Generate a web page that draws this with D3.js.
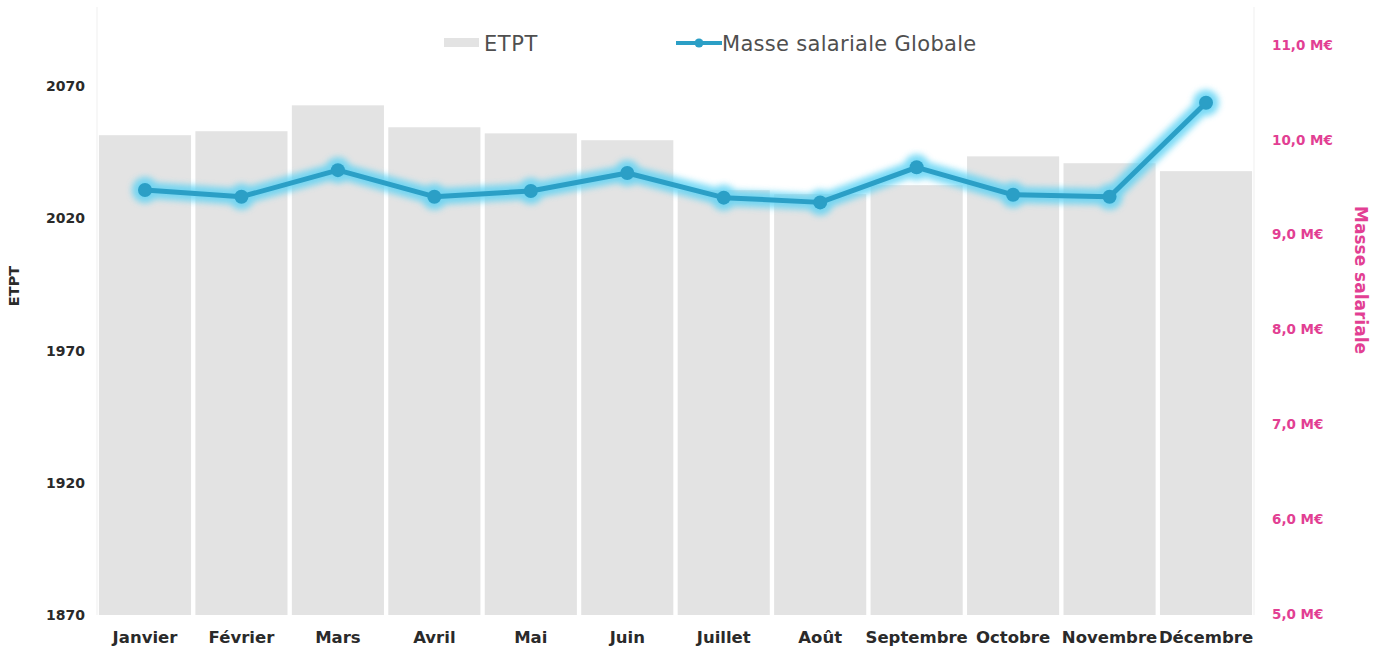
<!DOCTYPE html>
<html>
<head>
<meta charset="utf-8">
<script src="https://cdn.jsdelivr.net/npm/d3@7"></script>
<style>
  html, body { margin: 0; padding: 0; background: #fff; }
  svg { display: block; }
</style>
</head>
<body>
<svg id="chart" width="1381" height="653"></svg>
<script>
// Months (x categories)
const months = ["Janvier", "Février", "Mars", "Avril", "Mai", "Juin",
                "Juillet", "Août", "Septembre", "Octobre", "Novembre", "Décembre"];
// ETPT per month (bars, left axis)
const etpt = [2051.5, 2053, 2062.8, 2054.5, 2052.2, 2049.6,
              2030.7, 2029.2, 2032.6, 2043.5, 2040.9, 2037.9];
// Masse salariale globale per month, in M€ (line, right axis)
const masse = [9.47, 9.40, 9.68, 9.40, 9.46, 9.65,
               9.39, 9.34, 9.71, 9.42, 9.40, 10.39];
// Tick values
const etptTicks = [1870, 1920, 1970, 2020, 2070];
const masseTicks = [5, 6, 7, 8, 9, 10, 11];

const svg = d3.select("#chart");
const plot = { left: 97, right: 1254, top: 7, bottom: 615 };

const x = d3.scaleBand().domain(months)
  .range([plot.left, plot.right]).paddingInner(0.045).paddingOuter(0.02);
const yL = d3.scaleLinear().domain([1870, 2100]).range([plot.bottom, plot.top]);
const yR = d3.scaleLinear().domain([5, 11.4]).range([plot.bottom - 1, plot.top]);

const defs = svg.append("defs");
defs.append("filter").attr("id", "glow")
  .attr("x", "-20%").attr("y", "-50%").attr("width", "140%").attr("height", "200%")
  .append("feGaussianBlur").attr("stdDeviation", 3);

// faint plot frame lines
svg.append("g").selectAll("line").data([plot.left, plot.right]).join("line")
  .attr("x1", d => d).attr("x2", d => d)
  .attr("y1", plot.top).attr("y2", plot.bottom)
  .attr("stroke", "#efefef").attr("stroke-width", 1);

// Bars
svg.append("g").selectAll("rect").data(months).join("rect")
  .attr("x", d => x(d))
  .attr("width", x.bandwidth())
  .attr("y", (d, i) => yL(etpt[i]))
  .attr("height", (d, i) => yL(1870) - yL(etpt[i]))
  .attr("fill", "#e3e3e3");

// Left axis
const axL = svg.append("g").attr("transform", `translate(${plot.left - 12},0)`)
  .call(d3.axisLeft(yL).tickValues(etptTicks).tickSize(0).tickPadding(0).tickFormat(d3.format("d")));
axL.select(".domain").remove();
axL.selectAll("text")
  .attr("font-family", "DejaVu Sans").attr("font-weight", "bold")
  .attr("font-size", 14).attr("fill", "#2a2a2a");

// Right axis
const axR = svg.append("g").attr("transform", `translate(${plot.right + 18},0)`)
  .call(d3.axisRight(yR).tickValues(masseTicks).tickSize(0).tickPadding(0)
    .tickFormat(d => d3.format(".1f")(d).replace(".", ",") + " M€"));
axR.select(".domain").remove();
axR.selectAll("text")
  .attr("font-family", "DejaVu Sans").attr("font-weight", "bold")
  .attr("font-size", 13.5).attr("fill", "#e23f93");

// Bottom axis
const axB = svg.append("g").attr("transform", `translate(0,${plot.bottom})`)
  .call(d3.axisBottom(x).tickSize(0).tickPadding(16));
axB.select(".domain").remove();
axB.selectAll("text")
  .attr("font-family", "DejaVu Sans").attr("font-weight", "bold")
  .attr("font-size", 16.5).attr("fill", "#2a2a2a");

// Axis titles
svg.append("text")
  .attr("transform", `translate(19,286) rotate(-90)`)
  .attr("text-anchor", "middle")
  .attr("font-family", "DejaVu Sans").attr("font-weight", "bold")
  .attr("font-size", 14.5).attr("fill", "#2a2a2a")
  .text("ETPT");
svg.append("text")
  .attr("transform", `translate(1355,280) rotate(90)`)
  .attr("text-anchor", "middle")
  .attr("font-family", "DejaVu Sans").attr("font-weight", "bold")
  .attr("font-size", 17).attr("fill", "#e23f93")
  .text("Masse salariale");

// Line with glow
const cx = (d, i) => x(months[i]) + x.bandwidth() / 2;
const line = d3.line().x((d, i) => cx(d, i)).y(d => yR(d));

const glow = svg.append("g").attr("filter", "url(#glow)").attr("opacity", 0.8);
glow.append("path").datum(masse).attr("d", line)
  .attr("fill", "none").attr("stroke", "#5ad2f4").attr("stroke-width", 16)
  .attr("stroke-linejoin", "round").attr("stroke-linecap", "round");
glow.selectAll("circle").data(masse).join("circle")
  .attr("cx", cx).attr("cy", d => yR(d)).attr("r", 13).attr("fill", "#5ad2f4");

svg.append("path").datum(masse).attr("d", line)
  .attr("fill", "none").attr("stroke", "#2b9fc6").attr("stroke-width", 5)
  .attr("stroke-linejoin", "round");
svg.append("g").selectAll("circle").data(masse).join("circle")
  .attr("cx", cx).attr("cy", d => yR(d)).attr("r", 7).attr("fill", "#2b9fc6");

// Legend
const lg = svg.append("g");
lg.append("rect").attr("x", 444).attr("y", 38).attr("width", 35).attr("height", 9)
  .attr("fill", "#e3e3e3");
lg.append("text").attr("x", 484).attr("y", 51)
  .attr("font-family", "DejaVu Sans").attr("font-size", 21).attr("letter-spacing", 0.6)
  .attr("fill", "#4f4f4f")
  .text("ETPT");
lg.append("line").attr("x1", 676).attr("x2", 722).attr("y1", 43).attr("y2", 43)
  .attr("stroke", "#2b9fc6").attr("stroke-width", 4);
lg.append("circle").attr("cx", 699).attr("cy", 43).attr("r", 4.5).attr("fill", "#2b9fc6");
lg.append("text").attr("x", 722).attr("y", 51)
  .attr("font-family", "DejaVu Sans").attr("font-size", 21).attr("letter-spacing", 0.3)
  .attr("fill", "#4f4f4f")
  .text("Masse salariale Globale");
</script>
</body>
</html>
